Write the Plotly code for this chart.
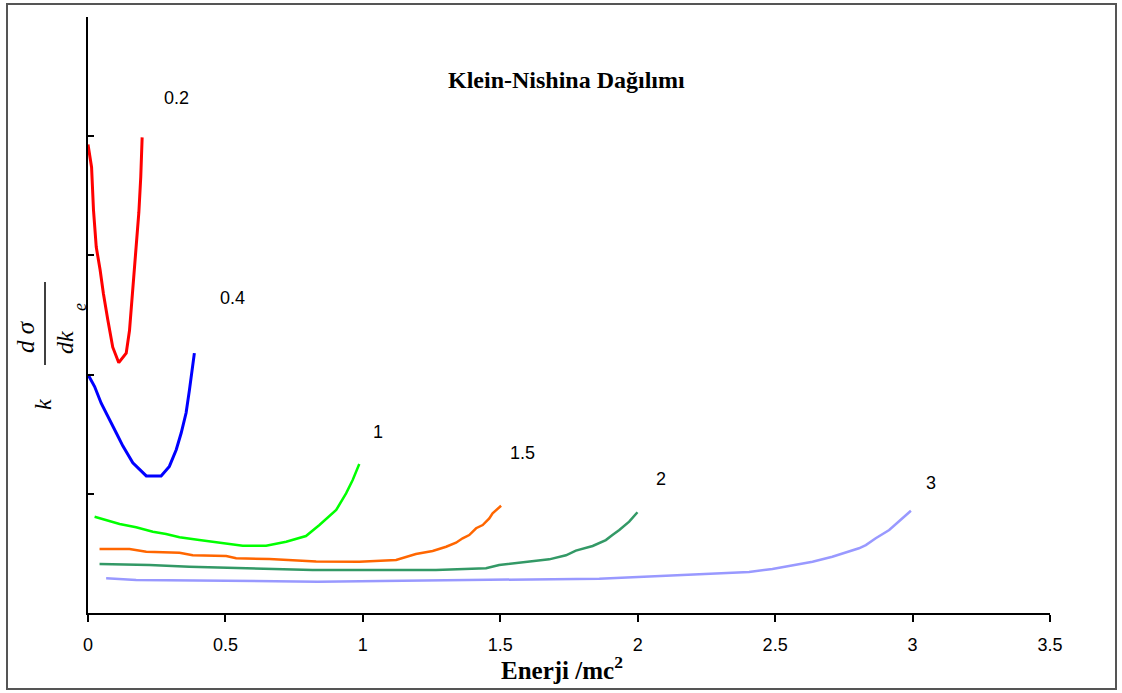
import plotly.graph_objects as go

# ---------------- data ----------------
energies = ["0.2", "0.4", "1", "1.5", "2", "3"]

x_02 = [0.0, 0.013, 0.020, 0.030, 0.044, 0.056, 0.072, 0.090, 0.112, 0.139, 0.151, 0.163, 0.173, 0.185, 0.192, 0.197]
y_02 = [3.93, 3.74, 3.38, 3.07, 2.88, 2.68, 2.46, 2.23, 2.10, 2.18, 2.37, 2.71, 3.07, 3.36, 3.66, 3.99]

x_04 = [0.0, 0.024, 0.048, 0.078, 0.103, 0.127, 0.163, 0.212, 0.266, 0.296, 0.321, 0.339, 0.357, 0.369, 0.379, 0.387]
y_04 = [2.00, 1.90, 1.76, 1.63, 1.51, 1.40, 1.26, 1.15, 1.15, 1.23, 1.37, 1.51, 1.68, 1.87, 2.04, 2.18]

x_1 = [0.024, 0.066, 0.115, 0.175, 0.236, 0.284, 0.333, 0.405, 0.490, 0.563, 0.648, 0.721, 0.793, 0.842, 0.903, 0.939, 0.963, 0.987]
y_1 = [0.808, 0.780, 0.747, 0.719, 0.682, 0.663, 0.635, 0.612, 0.585, 0.565, 0.565, 0.598, 0.646, 0.738, 0.864, 1.004, 1.116, 1.250]

x_15 = [0.042, 0.151, 0.212, 0.333, 0.381, 0.503, 0.539, 0.660, 0.830, 0.987, 1.121, 1.157, 1.193, 1.254, 1.303, 1.339, 1.363, 1.387, 1.412, 1.436, 1.460, 1.472, 1.503]
y_15 = [0.537, 0.537, 0.514, 0.506, 0.484, 0.478, 0.459, 0.453, 0.432, 0.430, 0.445, 0.472, 0.495, 0.520, 0.556, 0.590, 0.627, 0.654, 0.711, 0.738, 0.794, 0.836, 0.900]

x_2 = [0.042, 0.224, 0.369, 0.575, 0.817, 1.266, 1.448, 1.496, 1.593, 1.678, 1.739, 1.775, 1.836, 1.884, 1.908, 1.933, 1.969, 1.999]
y_2 = [0.411, 0.403, 0.388, 0.375, 0.361, 0.361, 0.375, 0.403, 0.430, 0.450, 0.484, 0.523, 0.562, 0.612, 0.654, 0.696, 0.766, 0.845]

x_3 = [0.066, 0.175, 0.835, 1.496, 1.860, 2.042, 2.224, 2.405, 2.490, 2.587, 2.636, 2.708, 2.805, 2.830, 2.866, 2.915, 2.951, 2.994]
y_3 = [0.291, 0.277, 0.263, 0.277, 0.288, 0.306, 0.327, 0.344, 0.369, 0.411, 0.430, 0.472, 0.543, 0.570, 0.627, 0.696, 0.766, 0.858]

x_ticks = [0, 0.5, 1, 1.5, 2, 2.5, 3, 3.5]
x_tick_labels = ["0", "0.5", "1", "1.5", "2", "2.5", "3", "3.5"]
y_ticks = [0, 1, 2, 3, 4, 5]

# curve label anchor points (data coords)
label_x = [0.322, 0.525, 1.056, 1.58, 2.085, 3.067]
label_y = [4.32, 2.64, 1.52, 1.34, 1.124, 1.09]

# ---------------- styling ----------------
series = [(x_02, y_02), (x_04, y_04), (x_1, y_1), (x_15, y_15), (x_2, y_2), (x_3, y_3)]
colors = ["#FF0000", "#0000FF", "#00FF00", "#FF6600", "#339966", "#9999FF"]
widths = [3, 3, 2.5, 2.5, 2.5, 2.5]

W, H = 1122, 693
L, R, T, B = 88, 72, 17, 80
PW, PH = W - L - R, H - T - B


def px(xp):
    return (xp - L) / PW


def py(yp):
    return (H - B - yp) / PH


fig = go.Figure()
for (xs, ys), c, w, name in zip(series, colors, widths, energies):
    fig.add_trace(go.Scatter(x=xs, y=ys, mode="lines", name=name,
                             line=dict(color=c, width=w), showlegend=False,
                             hoverinfo="skip"))

sans = "Liberation Sans, Arial, sans-serif"
serif = "Liberation Serif, Times New Roman, serif"

annotations = []
for name, lx, ly in zip(energies, label_x, label_y):
    annotations.append(dict(x=lx, y=ly, xref="x", yref="y", text=name, showarrow=False,
                            xanchor="center", yanchor="middle",
                            font=dict(family=sans, size=18, color="black")))


def paper_text(xp, yp, text, size, angle=0):
    return dict(x=px(xp), y=py(yp), xref="paper", yref="paper", text=text,
                showarrow=False, xanchor="center", yanchor="middle", textangle=angle,
                font=dict(family=serif, size=size, color="black"))


# title
annotations.append(paper_text(566, 80, "<b>Klein-Nishina Dağılımı</b>", 24))
# x-axis title
annotations.append(paper_text(562, 668, "<b>Enerji /mc<sup>2</sup></b>", 25))
# y-axis label pieces (rotated)
annotations.append(paper_text(43, 405, "<i>k</i>", 24, -90))
annotations.append(paper_text(25, 337, "<i>d σ</i>", 25, -90))
annotations.append(paper_text(65, 343, "<i>dk</i>", 24, -90))
annotations.append(paper_text(80, 307, "<i>e</i>", 18, -90))

shapes = [
    # fraction bar
    dict(type="line", xref="paper", yref="paper", x0=px(45), x1=px(45), y0=py(282), y1=py(365),
         line=dict(color="black", width=1.5)),
    # outer frame
    dict(type="rect", xref="paper", yref="paper", x0=px(7), x1=px(1116), y0=py(689), y1=py(4),
         line=dict(color="#555555", width=2)),
]

fig.update_layout(
    width=W, height=H,
    margin=dict(l=L, r=R, t=T, b=B),
    paper_bgcolor="white", plot_bgcolor="white",
    annotations=annotations, shapes=shapes,
    xaxis=dict(range=[0, 3.5], tickvals=x_ticks, ticktext=x_tick_labels,
               showline=True, linecolor="black", linewidth=1.5,
               ticks="outside", ticklen=7, tickwidth=1.5, tickcolor="black",
               showgrid=False, zeroline=False, ticklabelstandoff=8,
               tickfont=dict(family=sans, size=18, color="black")),
    yaxis=dict(range=[0, 5], tickvals=y_ticks, showticklabels=False,
               showline=True, linecolor="black", linewidth=1.5,
               ticks="inside", ticklen=6, tickwidth=1.5, tickcolor="black",
               showgrid=False, zeroline=False),
)

fig.write_html("out.html")
